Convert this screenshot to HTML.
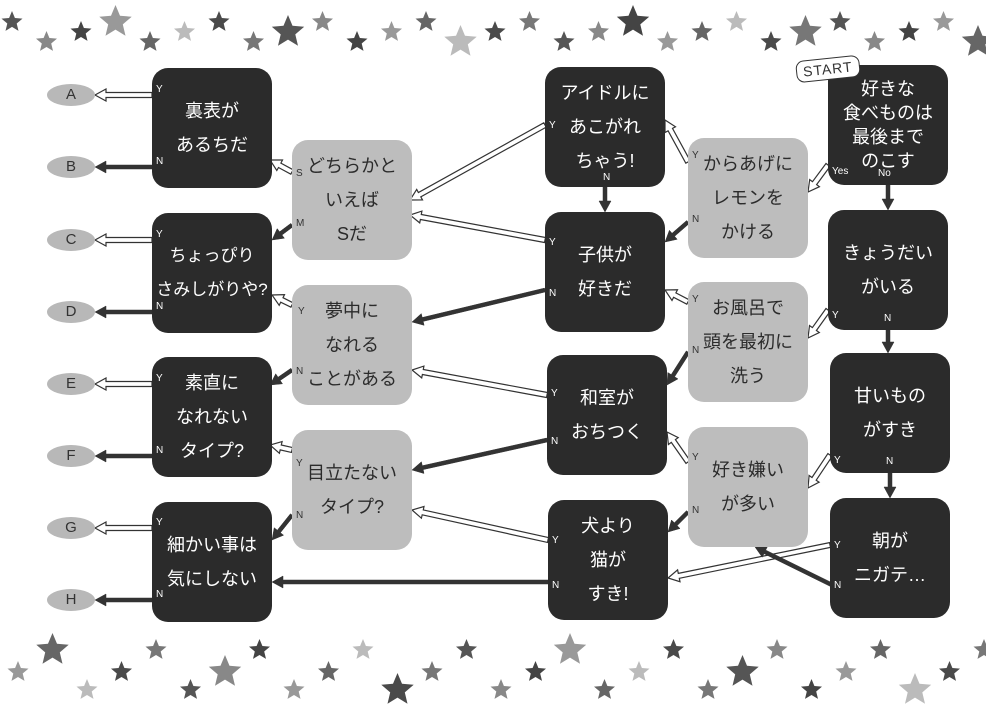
<!DOCTYPE html>
<html><head><meta charset="utf-8">
<style>
html,body{margin:0;padding:0;background:#fff;}
#w{position:relative;width:986px;height:713px;overflow:hidden;background:#fff;font-family:"Liberation Sans","Noto Sans CJK JP",sans-serif;}
.b{position:absolute;width:120px;height:120px;border-radius:16px;display:flex;align-items:center;justify-content:center;text-align:center;font-size:18px;line-height:34px;box-sizing:border-box;white-space:nowrap;}
.d{background:#2b2b2b;color:#fff;}
.g{background:#bdbdbd;color:#2b2b2b;}
.o{position:absolute;width:48px;height:22px;border-radius:50%;background:#b8b8b8;color:#333;font-size:15px;text-align:center;line-height:22px;}
.l{position:absolute;font-size:10px;color:#fff;}
.lg{position:absolute;font-size:10px;color:#333;}
svg{position:absolute;left:0;top:0;}
</style></head><body><div id="w">
<svg id="s" width="986" height="713"></svg>

<div class="o" style="left:47px;top:84px">A</div>
<div class="o" style="left:47px;top:156px">B</div>
<div class="o" style="left:47px;top:229px">C</div>
<div class="o" style="left:47px;top:301px">D</div>
<div class="o" style="left:47px;top:373px">E</div>
<div class="o" style="left:47px;top:445px">F</div>
<div class="o" style="left:47px;top:517px">G</div>
<div class="o" style="left:47px;top:589px">H</div>

<div class="b d" style="left:152px;top:68px">裏表が<br>あるちだ</div>
<div class="b d" style="left:152px;top:213px;font-size:17px">ちょっぴり<br>さみしがりや?</div>
<div class="b d" style="left:152px;top:357px">素直に<br>なれない<br>タイプ?</div>
<div class="b d" style="left:152px;top:502px">細かい事は<br>気にしない</div>

<div class="b g" style="left:292px;top:140px">どちらかと<br>いえば<br>Sだ</div>
<div class="b g" style="left:292px;top:285px">夢中に<br>なれる<br>ことがある</div>
<div class="b g" style="left:292px;top:430px">目立たない<br>タイプ?</div>

<div class="b d" style="left:545px;top:67px">アイドルに<br>あこがれ<br>ちゃう!</div>
<div class="b d" style="left:545px;top:212px">子供が<br>好きだ</div>
<div class="b d" style="left:547px;top:355px">和室が<br>おちつく</div>
<div class="b d" style="left:548px;top:500px">犬より<br>猫が<br>すき!</div>

<div class="b g" style="left:688px;top:138px">からあげに<br>レモンを<br>かける</div>
<div class="b g" style="left:688px;top:282px">お風呂で<br>頭を最初に<br>洗う</div>
<div class="b g" style="left:688px;top:427px">好き嫌い<br>が多い</div>

<div class="b d" style="left:828px;top:65px;line-height:24px">好きな<br>食べものは<br>最後まで<br>のこす</div>
<div class="b d" style="left:828px;top:210px">きょうだい<br>がいる</div>
<div class="b d" style="left:830px;top:353px">甘いもの<br>がすき</div>
<div class="b d" style="left:830px;top:498px">朝が<br>ニガテ…</div>

<div style="position:absolute;left:796px;top:58px;padding:2px 6px;background:#fff;border:1.5px solid #333;border-radius:8px;font-size:14px;color:#333;transform:rotate(-6deg);letter-spacing:1px">START</div>

<div class="l" style="left:156px;top:84px">Y</div><div class="l" style="left:156px;top:156px">N</div>
<div class="l" style="left:156px;top:229px">Y</div><div class="l" style="left:156px;top:301px">N</div>
<div class="l" style="left:156px;top:373px">Y</div><div class="l" style="left:156px;top:445px">N</div>
<div class="l" style="left:156px;top:517px">Y</div><div class="l" style="left:156px;top:589px">N</div>
<div class="lg" style="left:296px;top:168px">S</div><div class="lg" style="left:296px;top:218px">M</div>
<div class="lg" style="left:298px;top:306px">Y</div><div class="lg" style="left:296px;top:366px">N</div>
<div class="lg" style="left:296px;top:458px">Y</div><div class="lg" style="left:296px;top:510px">N</div>
<div class="l" style="left:549px;top:120px">Y</div><div class="l" style="left:603px;top:172px">N</div>
<div class="l" style="left:549px;top:237px">Y</div><div class="l" style="left:549px;top:288px">N</div>
<div class="l" style="left:551px;top:388px">Y</div><div class="l" style="left:551px;top:436px">N</div>
<div class="l" style="left:552px;top:535px">Y</div><div class="l" style="left:552px;top:580px">N</div>
<div class="lg" style="left:692px;top:150px">Y</div><div class="lg" style="left:692px;top:214px">N</div>
<div class="lg" style="left:692px;top:294px">Y</div><div class="lg" style="left:692px;top:345px">N</div>
<div class="lg" style="left:692px;top:452px">Y</div><div class="lg" style="left:692px;top:505px">N</div>
<div class="l" style="left:832px;top:166px">Yes</div><div class="l" style="left:878px;top:168px">No</div>
<div class="l" style="left:832px;top:310px">Y</div><div class="l" style="left:884px;top:313px">N</div>
<div class="l" style="left:834px;top:455px">Y</div><div class="l" style="left:886px;top:456px">N</div>
<div class="l" style="left:834px;top:540px">Y</div><div class="l" style="left:834px;top:580px">N</div>
</div>
<script>
var s=document.getElementById('s'),NS='http://www.w3.org/2000/svg';
function el(t,a){var e=document.createElementNS(NS,t);for(var k in a)e.setAttribute(k,a[k]);s.appendChild(e);}
function arr(x1,y1,x2,y2,hollow){
 var dx=x2-x1,dy=y2-y1,L=Math.hypot(dx,dy),ux=dx/L,uy=dy/L,px=-uy,py=ux;
 var hw=hollow?2.5:2,hl=11,hh=6,bx=x2-ux*hl,by=y2-uy*hl;
 var p=[[x1+px*hw,y1+py*hw],[bx+px*hw,by+py*hw],[bx+px*hh,by+py*hh],[x2,y2],[bx-px*hh,by-py*hh],[bx-px*hw,by-py*hw],[x1-px*hw,y1-py*hw]];
 el('polygon',{points:p.map(function(q){return q[0].toFixed(1)+','+q[1].toFixed(1)}).join(' '),fill:hollow?'#fff':'#333',stroke:'#333','stroke-width':hollow?1.2:0.5});
}
function star(cx,cy,r,c){var p=[];for(var i=0;i<10;i++){var a=-Math.PI/2+i*Math.PI/5,rr=i%2?r*0.45:r;p.push((cx+rr*Math.cos(a)).toFixed(1)+','+(cy+rr*Math.sin(a)).toFixed(1));}el('polygon',{points:p.join(' '),fill:c});}
var cols=['#555','#888','#444','#999','#666','#bbb','#4a4a4a','#777'];
for(var i=0;i<29;i++){var x=12+i*34.5;star(x,(i%3==0?22:i%3==1?42:32),(i%5==3?17:11),cols[i%8]);star(x+6,(i%3==0?672:i%3==1?650:690),(i%5==1?17:11),cols[(i+3)%8]);}
[[95,0],[167,1],[240,0],[312,1],[384,0],[456,1],[528,0],[600,1]].forEach(function(r){arr(152,r[0],95,r[0],!r[1]);});
arr(292,172,270,160,1);arr(292,225,272,240,0);
arr(292,305,272,295,1);arr(292,370,270,385,0);
arr(292,450,270,445,1);arr(292,515,272,540,0);
arr(545,125,410,200,1);arr(605,187,605,212,0);
arr(545,240,410,215,1);arr(545,290,412,322,0);
arr(547,395,412,370,1);arr(547,440,412,470,0);
arr(548,540,412,510,1);arr(548,582,272,582,0);
arr(688,162,665,120,1);arr(688,222,665,242,0);
arr(688,302,665,290,1);arr(688,352,667,385,0);
arr(688,462,667,432,1);arr(688,512,668,532,0);
arr(828,165,808,192,1);arr(888,185,888,210,0);
arr(828,310,808,338,1);arr(888,330,888,353,0);
arr(830,455,808,488,1);arr(890,473,890,498,0);
arr(830,545,668,578,1);arr(832,585,755,547,0);
</script>
</body></html>
